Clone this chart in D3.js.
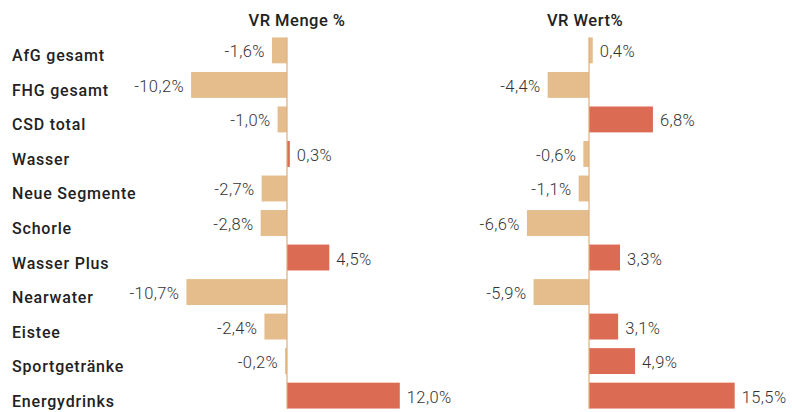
<!DOCTYPE html>
<html>
  <head>
    <meta charset="utf-8">
    <script src="https://d3js.org/d3.v7.min.js"></script>
    <style>
    body { margin: 0; background: #fff; }
    text { font-family: 'Roboto', sans-serif; fill: #222; }
    .cat { font-size: 16px; font-weight: 500; letter-spacing: 0.8px; }
    .val { font-size: 16.5px; font-weight: 300; letter-spacing: 0.4px; fill: #333; }
    .title { font-size: 16.5px; font-weight: 500; letter-spacing: 0.5px; }
    </style>
  </head>
  <body>
    <script>

      // data
      var categories = ["AfG gesamt", "FHG gesamt", "CSD total", "Wasser", "Neue Segmente",
        "Schorle", "Wasser Plus", "Nearwater", "Eistee", "Sportgetränke", "Energydrinks"];
      var menge = [-1.6, -10.2, -1.0, 0.3, -2.7, -2.8, 4.5, -10.7, -2.4, -0.2, 12.0];
      var wert = [0.4, -4.4, 6.8, -0.6, -1.1, -6.6, 3.3, -5.9, 3.1, 4.9, 15.5];
      var titles = ["VR Menge %", "VR Wert%"];

      // setup
      var w = 792, h = 412;
      var pxPerUnit = 9.4;
      var zeros = [287, 589];
      var titleX = [297, 585];
      var tan = "#e5bc8c", red = "#db6b53", axisColor = "#dcae7a";

      var svg = d3.select("body").append("svg")
          .attr("width", w)
          .attr("height", h);

      var yScale = d3.scaleBand()
          .domain(categories)
          .range([34, 412])
          .paddingInner(0.25)
          .paddingOuter(0.1);

      // category labels
      svg.append("g").selectAll("text")
          .data(categories)
          .enter().append("text")
          .attr("class", "cat")
          .attr("x", 12)
          .attr("y", d => yScale(d) + yScale.bandwidth() / 2 + 11)
          .text(d => d);

      // german style: hyphen minus, comma decimal
      var fmt = v => (v < 0 ? "-" : "") + Math.abs(v).toFixed(1).replace(".", ",") + "%";

      [menge, wert].forEach(function(values, p) {
        var z = zeros[p];
        var xScale = d3.scaleLinear()
            .domain([-12, 16])
            .range([z - 12 * pxPerUnit, z + 16 * pxPerUnit]);

        var panel = svg.append("g");

        panel.append("text")
            .attr("class", "title")
            .attr("x", titleX[p])
            .attr("y", 26)
            .attr("text-anchor", "middle")
            .text(titles[p]);

        var rows = categories.map((c, i) => ({ cat: c, v: values[i], i: i }));

        panel.selectAll("rect")
            .data(rows)
            .enter().append("rect")
            .attr("x", d => xScale(Math.min(0, d.v)))
            .attr("width", d => Math.abs(xScale(d.v) - xScale(0)))
            .attr("y", d => yScale(d.cat))
            .attr("height", yScale.bandwidth())
            .attr("fill", d => (d.v > 0 && d.i > 0) ? red : tan);

        panel.append("line")
            .attr("x1", xScale(0)).attr("x2", xScale(0))
            .attr("y1", yScale(categories[0]))
            .attr("y2", yScale(categories[categories.length - 1]) + yScale.bandwidth())
            .attr("stroke", axisColor)
            .attr("stroke-width", 1.2);

        panel.selectAll("text.val")
            .data(rows)
            .enter().append("text")
            .attr("class", "val")
            .attr("x", d => d.v < 0 ? xScale(d.v) - 7 : xScale(d.v) + 7)
            .attr("y", d => yScale(d.cat) + yScale.bandwidth() / 2 + 7)
            .attr("text-anchor", d => d.v < 0 ? "end" : "start")
            .text(d => fmt(d.v));
      });

    </script>
  </body>
</html>
